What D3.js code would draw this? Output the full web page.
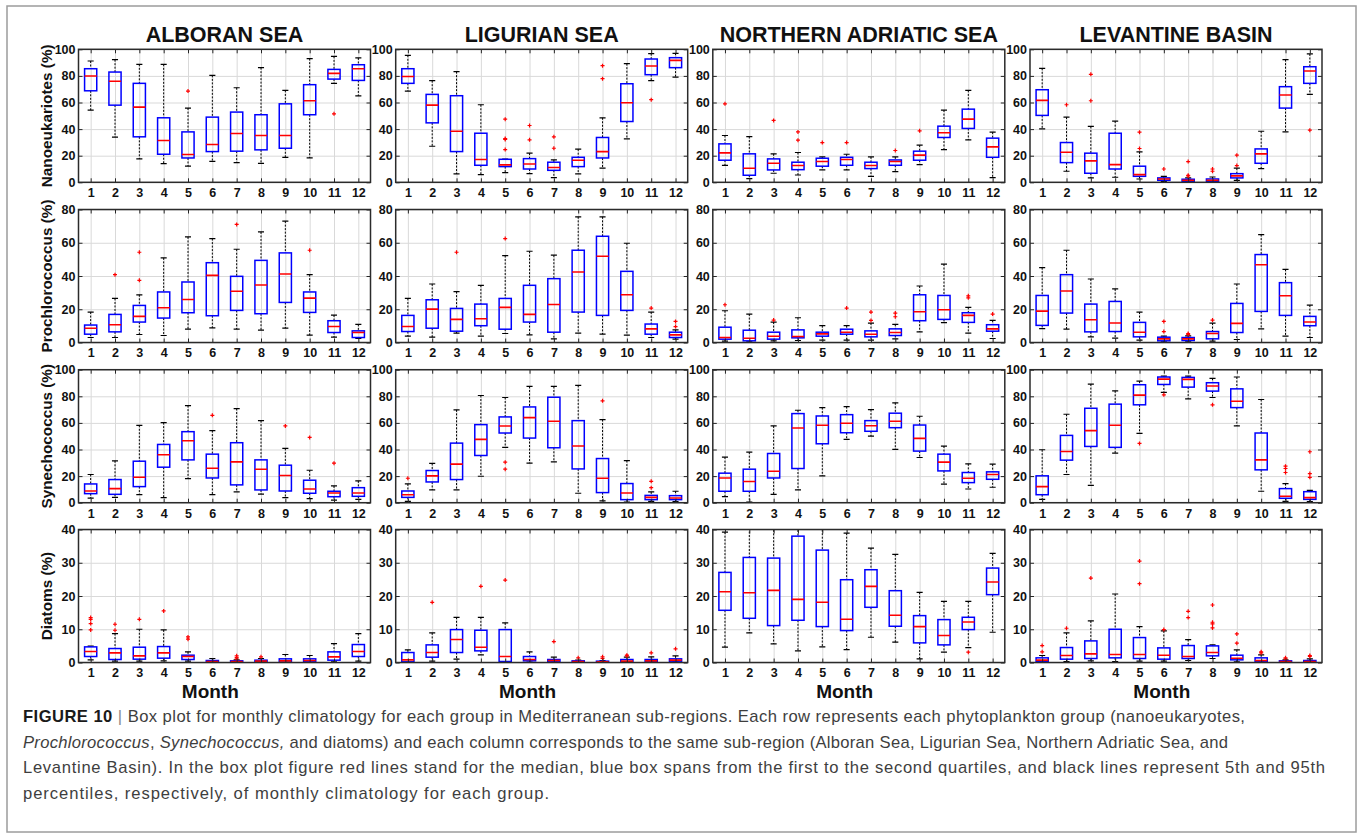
<!DOCTYPE html>
<html>
<head>
<meta charset="utf-8">
<script src="https://cdn.jsdelivr.net/npm/d3@7"></script>
<style>
  html, body { margin: 0; padding: 0; background: #fff; }
  svg { display: block; }
  text { font-family: "Liberation Sans", Arial, Helvetica, sans-serif; }
</style>
</head>
<body>
<svg id="fig" width="1362" height="837"></svg>
<script>
// ---------- categories and labels ----------
const months = d3.range(1, 13);
const regions = ["ALBORAN SEA", "LIGURIAN SEA", "NORTHERN ADRIATIC SEA", "LEVANTINE BASIN"];
const groups = ["Nanoeukariotes (%)", "Prochlorococcus (%)", "Synechococcus (%)", "Diatoms (%)"];
const yMax = [100, 80, 100, 40];
const yTicks = [
  [0, 20, 40, 60, 80, 100],
  [0, 20, 40, 60, 80],
  [0, 20, 40, 60, 80, 100],
  [0, 10, 20, 30, 40]
];

// ---------- monthly statistics: [p5, q1, median, q3, p95] ----------
// Nanoeukaryotes
const nanoAlb = [[54.3,68.8,79.9,85.4,91.2],[33.9,58,76,82.9,92.2],[17.6,34.2,56.5,74.4,88.7],[14.1,21.1,31.4,48.5,88.7],[12.1,18.3,20.9,37.9,55.8],[15.8,23.1,28.4,49,80.4],[14.8,23.4,36.7,52.8,71.1],[14.3,24.4,35.2,50.8,86.2],[18.8,25.6,35.2,59,69.1],[18.3,50.8,61.3,73.4,93],[74.4,77.6,81.9,84.9,94.7],[65,76.6,85.4,88.4,93.5]];
const nanoAlbOut = [[5,68.6],[11,51.5]];
const nanoLig = [[68.6,74.4,79.6,85.4,95.5],[27.1,44.7,58,66.1,76.4],[6.3,23.1,38.4,65.1,83.2],[5.8,12.8,17.1,36.9,58.3],[7.3,11.8,13.1,17.3,17.5],[6.5,10,13.8,17.8,21.9],[3.5,9,11.1,15.1,16.8],[6.3,11.8,16.6,18.8,24.9],[10.6,18.3,23.1,33.7,48.5],[32.7,45.7,59.8,74.1,89.2],[76.5,80.9,87.4,92.7,96.7],[79.1,86.2,91.7,93.7,97]];
const nanoLigOut = [[5,47.5],[5,32.9],[5,32.2],[5,24.6],[6,42.7],[6,31.9],[7,34.2],[7,25.6],[9,87.7],[9,77.9],[11,62.1]];
const nanoAdr = [[12.8,16.6,22.1,28.9,35.2],[2.8,5.3,10.6,21.4,34.4],[6.8,9.3,14.3,17.6,21.4],[5.5,9.5,12.6,15.1,22.4],[9.3,12.1,15.6,18.1,19.1],[9.3,12.8,17.1,18.8,21.1],[4.5,10.3,12.6,15.1,19.1],[8,12.8,15.6,16.8,19.1],[13.3,16.6,20.4,23.4,27.9],[24.6,33.7,37.2,42.2,54.3],[31.9,40.5,47.5,55,69.1],[3.5,18.8,26.6,33.2,37.7]];
const nanoAdrOut = [[1,59],[3,46.5],[4,37.9],[4,31.7],[5,29.9],[6,29.9],[8,23.9],[9,38.7]];
const nanoLev = [[40.2,50.3,61.6,69.6,85.7],[8.3,14.8,22.6,29.9,49],[3.3,6.8,16.1,21.9,42],[3.8,10,13.3,36.9,46],[2.5,4.5,5.8,12.1,22.9],[0.5,1.5,2.5,3.3,4.5],[0.3,0.8,1.5,2.3,3.3],[0.3,0.8,1.5,2.5,4],[1.5,3.3,4.8,6.5,10.6],[10.3,14.3,21.4,25.1,38.4],[37.9,55.8,65.6,71.9,92.2],[66.1,74.4,83.7,86.9,96.5]];
const nanoLevOut = [[2,58.3],[3,81.2],[3,61.3],[5,37.7],[5,25.4],[6,10],[7,15.6],[7,5.3],[7,4.8],[8,10],[8,8.3],[9,20.4],[9,12.6],[12,39.2]];

// Prochlorococcus
const proAlb = [[3,5,8.6,10.5,18.3],[3,6.4,10.7,16.9,26.5],[4.8,12.3,15.7,22.3,28.7],[4.2,14.7,20.9,30.4,50.9],[8,17.9,25.9,36.4,63.5],[8.8,16.1,40.4,48,62.5],[8,19.3,30.8,39.8,56.1],[7.4,17.3,34.6,49.4,66.5],[8.6,24.1,41.2,53.9,73],[4.4,18.1,26.7,30.4,40.8],[3.2,6,9.6,13.1,16.5],[2.4,3,6,7,10.9]];
const proAlbOut = [[2,40.8],[3,54.3],[3,37.4],[7,71],[10,55.5]];
const proLig = [[3.8,6.6,9.6,16.3,26.5],[3.2,8.6,20.1,25.7,35.2],[5.6,6.8,13.9,20.5,30.6],[3.8,10.1,14.3,23.1,34.4],[5.4,8,21.1,26.5,52.3],[4.6,12.3,16.9,34.4,54.9],[2.2,6.2,22.9,38.4,52.5],[5.6,18.3,42.4,55.5,75.6],[5,16.3,51.9,63.9,75.6],[4.4,19.3,28.7,42.8,59.7],[3,5,8.2,11.1,18.3],[2,3,4.6,6.2,7.6]];
const proLigOut = [[3,54.3],[5,62.5],[11,20.7],[12,12.7],[12,9.6]];
const proAdr = [[0.8,2,3,9.2,19.1],[0.4,1,2.6,7.4,17.1],[1,2,3.8,6.2,12.3],[1.2,2.8,3.6,7.6,14.9],[1.4,3.8,5.2,6.2,10.1],[1.4,5,6.2,8,10.1],[1.4,3.4,5,7,11.7],[2.2,4.2,6,8.2,10.9],[6.4,13.1,18.5,28.7,34],[11.9,13.9,19.7,28.3,47.2],[5.6,12.1,16.3,17.9,21.1],[2.4,6.8,8.2,10.7,13.3]];
const proAdrOut = [[1,22.7],[3,13.5],[6,20.7],[7,18.3],[7,13.3],[8,17.7],[8,15.5],[11,28.1],[11,26.9],[12,17.1]];
const proLev = [[8.4,10.3,18.9,28.3,45],[8,17.7,31,40.8,55.5],[3.4,6.4,13.7,23.1,38.2],[2.6,6.6,11.7,24.7,32.2],[1.4,3.4,6.2,12.1,18.3],[0.4,1,2.2,3.2,3.8],[0.4,1.2,2.2,3,4],[0.8,2.2,5.4,6.6,11.7],[1.8,6,11.5,23.5,35.2],[8.2,18.7,46.8,52.9,64.9],[3.8,16.3,28.1,36,44],[3,10.1,12.3,15.7,22.5]];
const proLevOut = [[6,12.7],[6,6.6],[7,5.4],[7,4.8],[8,13.5]];

// Synechococcus
const synAlb = [[3.5,6.8,8.8,14.1,21.2],[4,6.3,10.6,17.4,31.5],[6,12.1,19.1,31.2,58.2],[3.8,26.7,36,43.8,60.2],[18.1,32.2,46.6,53.4,73],[6,18.6,25.9,36.5,54.2],[8.1,13.4,30.7,45.1,70.8],[6.5,9.6,25.2,32.2,61.7],[3.8,8.8,20.4,28.2,40.8],[3,7.1,10.3,16.9,24.4],[2,4.5,7.3,8.6,12.6],[2.5,4.8,7.3,11.3,16.4]];
const synAlbOut = [[6,65.7],[9,57.7],[10,49.1],[11,29.7]];
const synLig = [[1,4,6,8.8,14.1],[9.6,15.6,20.2,24.2,29.5],[9.6,17.4,29,44.8,69.8],[19.9,35.5,47.6,58.7,80.6],[41.6,52.4,57.7,64.5,79.1],[29.7,48.6,64,72,87.4],[30.7,41.3,61.2,79.3,87.4],[7.1,25.4,42.6,61.7,88.2],[1.3,7.6,18.4,33.2,62.5],[0.5,2.3,7.3,14.4,31.7],[1,2.3,4,5.5,8.1],[0.8,2.3,3.5,5.3,8.6]];
const synLigOut = [[1,18.4],[5,30.5],[5,25.2],[9,76.6],[11,16.1],[11,11.3]];
const synAdr = [[4.5,8.6,18.6,22.2,34.3],[0.5,8.6,15.9,25.2,38],[6.3,18.6,23.7,37,57.7],[9.6,25.7,56.2,67,69.5],[20.2,44.3,58.2,65.2,71.5],[47.6,52.6,59.7,66.2,72.3],[50.1,53.7,57.9,61.7,70],[40.1,56.4,61.2,67.3,75.1],[34,38.8,48.4,58.4,65],[13.9,23.9,30.5,36.5,42.6],[10.3,15.1,18.4,22.7,29.2],[11.6,17.6,21.2,23.2,29]];
const synAdrOut = [];
const synLev = [[2.5,6,12.1,20.2,39.8],[21.2,32,38.5,50.6,66.5],[13.1,42.3,54.2,71,89.2],[37.3,41.6,58.2,74.1,84.1],[52.1,73.6,80.9,88.7,91.4],[82.9,88.9,92.9,94.5,95.2],[78.1,86.9,92.7,94.2,95.2],[79.1,83.9,87.7,90.2,93.5],[57.7,71.5,76.3,85.6,94.5],[8.6,24.7,32.2,52.4,77.6],[1,3.3,4.8,10.6,14.4],[0.8,2.5,3.8,8.3,9.3]];
const synLevOut = [[5,44.6],[6,81.1],[8,73.6],[11,27.5],[11,25.7],[11,22.7],[12,38.3],[12,21.9],[12,19.1]];

// Diatoms
const diaAlb = [[0.8,1.8,3.3,4.7,4.9],[0.4,0.9,2.9,4.2,8.7],[0.4,1,2,4.6,10],[0.5,1.3,2.9,4.8,9.8],[0.4,0.9,1.8,2.2,3.2],[0.1,0.1,0.3,0.6,1.2],[0,0.1,0.3,0.5,0.8],[0,0.1,0.4,0.7,1.2],[0,0.1,0.5,1.1,2.4],[0,0.2,0.6,1.1,2.1],[0.2,0.7,1.7,3.2,5.7],[0.4,1.8,3.3,5.4,8.7]];
const diaAlbOut = [[1,13.5],[1,13],[1,11.7],[1,9.8],[2,11.5],[2,9.7],[3,13],[4,15.5],[5,7.7],[5,7],[7,2],[7,1.5],[7,1.1],[8,1.7]];
const diaLig = [[0,0.2,0.8,3,3.8],[0.4,1.6,3,5.3,8.9],[1,3,6.9,9.9,13.6],[2.3,3.5,4.6,9.7,13.6],[0.2,0.3,1.8,9.9,11.9],[0.1,0.5,0.9,1.8,3.2],[0.1,0.2,0.6,0.9,1.6],[0,0.1,0.3,0.5,0.7],[0,0.1,0.2,0.4,0.6],[0,0.1,0.4,0.9,1.6],[0.1,0.2,0.5,0.9,1.7],[0.1,0.2,0.7,1.1,2]];
const diaLigOut = [[2,18.1],[4,22.9],[5,24.8],[7,6.3],[8,1.4],[9,1.7],[9,1.2],[10,2.2],[10,2],[11,2.9],[12,4.1]];
const diaAdr = [[4.6,15.7,21.3,27.1,39.2],[8.9,13.3,21,31.6,41.5],[5.6,11.1,21.7,31.4,42],[3.5,12.7,19,38,43],[4.7,10.8,18.1,33.8,41],[3.9,9.6,13,24.9,38.9],[7.6,16.6,22.9,27.9,34.4],[6.1,10.9,14.2,21.6,32.5],[1.1,5.9,10.8,14.1,21.1],[3.1,5.3,8.1,12.9,18.4],[4.5,9.9,12.2,13.6,18.4],[9.1,20.4,24.2,28.4,32.8]];
const diaAdrOut = [[11,3.1]];
const diaLev = [[0.1,0.3,0.7,1.4,2.1],[0.3,1,2.1,4.5,8.9],[0.5,1.2,2.6,6.5,12.5],[0.3,1.4,2.4,10,20.6],[0.4,1.2,2.4,7.5,10.8],[0.4,1,2.2,4.4,9.5],[0.6,1.2,1.8,5.1,6.9],[1.2,2,3,5,5.3],[0.2,0.8,1.3,2.2,3.8],[0.1,0.2,0.6,1.4,2.3],[0,0.1,0.3,0.5,0.8],[0,0.1,0.3,0.6,1.1]];
const diaLevOut = [[1,5.1],[1,3.2],[2,10.3],[3,25.4],[5,30.5],[5,23.7],[6,9.9],[7,15.4],[7,13.5],[8,17.3],[8,12.1],[8,11.6],[8,10.4],[9,8.6],[9,5.8],[10,3.2],[10,2.9],[11,1.4],[11,1.1],[12,2.1],[12,1.8]];

// grid of panels: rows = groups, columns = regions
const panelStats = [
  [nanoAlb, nanoLig, nanoAdr, nanoLev],
  [proAlb, proLig, proAdr, proLev],
  [synAlb, synLig, synAdr, synLev],
  [diaAlb, diaLig, diaAdr, diaLev]
];
const panelOutliers = [
  [nanoAlbOut, nanoLigOut, nanoAdrOut, nanoLevOut],
  [proAlbOut, proLigOut, proAdrOut, proLevOut],
  [synAlbOut, synLigOut, synAdrOut, synLevOut],
  [diaAlbOut, diaLigOut, diaAdrOut, diaLevOut]
];

// ---------- layout ----------
const colLeft = [78.5, 395.7, 712.8, 1030];
const rowTop = [49.3, 209.5, 369.7, 529.5];
const W = 292, H = 133;

const svg = d3.select("#fig");

// outer frame of the figure
svg.append("rect")
  .attr("x", 7).attr("y", 6).attr("width", 1349).attr("height", 826)
  .attr("fill", "none").attr("stroke", "#9c9c9c").attr("stroke-width", 1.5);

const defs = svg.append("defs");

panelStats.forEach((rowData, r) => {
  rowData.forEach((stats, c) => {
    const x0 = colLeft[c], y0 = rowTop[r];
    const x = d3.scaleLinear().domain([0.5, 12.5]).range([x0, x0 + W]);
    const y = d3.scaleLinear().domain([0, yMax[r]]).range([y0 + H, y0]);
    const g = svg.append("g");

    const clipId = `clip-${r}-${c}`;
    defs.append("clipPath").attr("id", clipId)
      .append("rect").attr("x", x0).attr("y", y0).attr("width", W).attr("height", H);

    // grid
    const gridX = g.append("g").attr("transform", `translate(0,${y0 + H})`)
      .call(d3.axisBottom(x).tickValues(months).tickSize(-H).tickFormat(""));
    const gridY = g.append("g").attr("transform", `translate(${x0},0)`)
      .call(d3.axisLeft(y).tickValues(yTicks[r]).tickSize(-W).tickFormat(""));
    [gridX, gridY].forEach(s => {
      s.select(".domain").remove();
      s.selectAll("line").attr("stroke", "#d9d9d9").attr("stroke-width", 1);
    });

    // boxes
    const bw = (x(2) - x(1)) * 0.5;
    const cw = bw * 0.5;
    const boxes = g.append("g").attr("clip-path", `url(#${clipId})`);
    const items = boxes.selectAll("g.box").data(stats.map((s, i) => ({ m: months[i], s })))
      .join("g").attr("class", "box");

    // whiskers (dashed)
    items.append("line")
      .attr("x1", d => x(d.m)).attr("x2", d => x(d.m))
      .attr("y1", d => y(d.s[4])).attr("y2", d => y(d.s[3]))
      .attr("stroke", "#000").attr("stroke-width", 1).attr("stroke-dasharray", "2,1.5");
    items.append("line")
      .attr("x1", d => x(d.m)).attr("x2", d => x(d.m))
      .attr("y1", d => y(d.s[1])).attr("y2", d => y(d.s[0]))
      .attr("stroke", "#000").attr("stroke-width", 1).attr("stroke-dasharray", "2,1.5");
    // whisker caps
    [0, 4].forEach(k => {
      items.append("line")
        .attr("x1", d => x(d.m) - cw / 2).attr("x2", d => x(d.m) + cw / 2)
        .attr("y1", d => y(d.s[k])).attr("y2", d => y(d.s[k]))
        .attr("stroke", "#000").attr("stroke-width", 1.2);
    });
    // interquartile box
    items.append("rect")
      .attr("x", d => x(d.m) - bw / 2).attr("width", bw)
      .attr("y", d => y(d.s[3])).attr("height", d => Math.max(0.5, y(d.s[1]) - y(d.s[3])))
      .attr("fill", "none").attr("stroke", "#0000ff").attr("stroke-width", 1.5);
    // median
    items.append("line")
      .attr("x1", d => x(d.m) - bw / 2).attr("x2", d => x(d.m) + bw / 2)
      .attr("y1", d => y(d.s[2])).attr("y2", d => y(d.s[2]))
      .attr("stroke", "#ff0000").attr("stroke-width", 1.6);

    // outliers as red plus markers
    boxes.selectAll("path.out").data(panelOutliers[r][c]).join("path")
      .attr("class", "out")
      .attr("transform", d => `translate(${x(d[0])},${y(d[1])})`)
      .attr("d", "M-2,0H2M0,-2V2")
      .attr("stroke", "#ff0000").attr("stroke-width", 1.2).attr("fill", "none");

    // axes with inward ticks on all four sides
    const tickLen = 4;
    const axB = g.append("g").attr("transform", `translate(0,${y0 + H})`)
      .call(d3.axisBottom(x).tickValues(months).tickSizeInner(-tickLen).tickSizeOuter(0).tickPadding(6));
    const axT = g.append("g").attr("transform", `translate(0,${y0})`)
      .call(d3.axisTop(x).tickValues(months).tickSizeInner(-tickLen).tickSizeOuter(0).tickFormat(""));
    const axL = g.append("g").attr("transform", `translate(${x0},0)`)
      .call(d3.axisLeft(y).tickValues(yTicks[r]).tickSizeInner(-tickLen).tickSizeOuter(0).tickPadding(3));
    const axR = g.append("g").attr("transform", `translate(${x0 + W},0)`)
      .call(d3.axisRight(y).tickValues(yTicks[r]).tickSizeInner(-tickLen).tickSizeOuter(0).tickFormat(""));
    [axB, axT, axL, axR].forEach(s => {
      s.select(".domain").remove();
      s.selectAll("line").attr("stroke", "#262626").attr("stroke-width", 1);
      s.selectAll("text").attr("fill", "#111").attr("font-size", 12.5).attr("font-weight", "bold")
        .style("font-family", "'Liberation Sans', Arial, sans-serif");
    });

    // axes frame
    g.append("rect").attr("x", x0).attr("y", y0).attr("width", W).attr("height", H)
      .attr("fill", "none").attr("stroke", "#2b2b2b").attr("stroke-width", 1.5);

    // column titles
    if (r === 0) {
      svg.append("text").attr("x", x0 + W / 2).attr("y", 42)
        .attr("text-anchor", "middle").attr("font-size", 21.5).attr("font-weight", "bold")
        .attr("fill", "#111").text(regions[c]);
    }
    // row labels
    if (c === 0) {
      svg.append("text")
        .attr("transform", `translate(52,${y0 + H / 2}) rotate(-90)`)
        .attr("text-anchor", "middle").attr("font-size", 15.3).attr("font-weight", "bold")
        .attr("fill", "#111").text(groups[r]);
    }
    // x label below the bottom row
    if (r === 3) {
      svg.append("text").attr("x", x(6) - 2).attr("y", 697.5)
        .attr("text-anchor", "middle").attr("font-size", 19).attr("font-weight", "bold")
        .attr("fill", "#111").text("Month");
    }
  });
});

// ---------- caption ----------
const capLines = [
  [["FIGURE 10", "bold"], [" | ", "bar"], ["Box plot for monthly climatology for each group in Mediterranean sub-regions. Each row represents each phytoplankton group (nanoeukaryotes,", ""]],
  [["Prochlorococcus", "italic"], [", ", ""], ["Synechococcus,", "italic"], [" and diatoms) and each column corresponds to the same sub-region (Alboran Sea, Ligurian Sea, Northern Adriatic Sea, and", ""]],
  [["Levantine Basin). In the box plot figure red lines stand for the median, blue box spans from the first to the second quartiles, and black lines represent 5th and 95th", ""]],
  [["percentiles, respectively, of monthly climatology for each group.", ""]]
];
const capX = 23;
const capY = [722, 747.5, 773, 798.5];
const capWidth = [1222, 1205, 1302, 526];
const cap = svg.append("g");
capLines.forEach((parts, i) => {
  const t = cap.append("text").attr("x", capX).attr("y", capY[i])
    .attr("font-size", 16.6).attr("fill", "#3e3e3e")
    .attr("textLength", capWidth[i]).attr("lengthAdjust", "spacing");
  parts.forEach(([s, kind]) => {
    const ts = t.append("tspan").text(s);
    if (kind === "bold") ts.attr("font-weight", "bold").attr("fill", "#1a1a1a");
    if (kind === "italic") ts.attr("font-style", "italic");
    if (kind === "bar") ts.attr("fill", "#8a8a8a");
  });
});
</script>
</body>
</html>
